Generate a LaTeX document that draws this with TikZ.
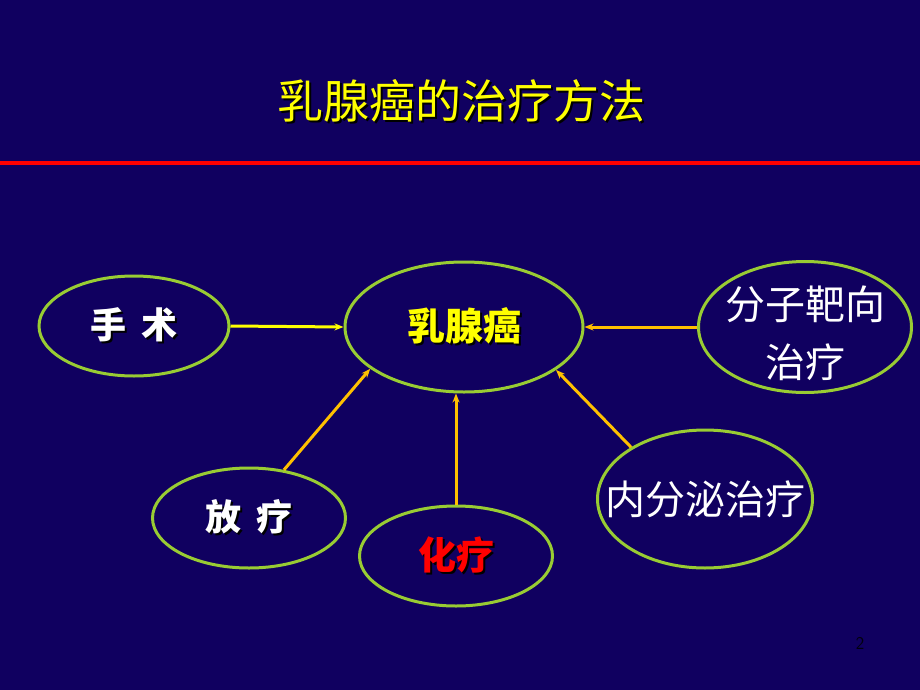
\documentclass[tikz,border=0pt]{standalone}
\usepackage{fontspec}
\newfontfamily\cjk{Noto Sans CJK SC}
\usetikzlibrary{shapes.geometric,arrows.meta}
\definecolor{bgnavy}{RGB}{16,0,96}
\definecolor{ringgreen}{RGB}{153,204,51}
\definecolor{arrowyel}{RGB}{255,255,0}
\definecolor{arroworange}{RGB}{255,192,0}
\definecolor{titleyel}{RGB}{255,255,0}
\definecolor{redtxt}{RGB}{255,0,0}
\definecolor{shadowc}{RGB}{0,0,0}
\newcommand{\shtext}[1]{\makebox[0pt][l]{\hspace{2pt}\raisebox{-2pt}{\color{shadowc}#1}}#1}
\newcommand{\nowidth}[1]{\makebox[0pt][c]{#1}}
\tikzset{
  oval/.style={ellipse, draw=ringgreen, line width=3pt, inner sep=0pt, align=center},
  link/.style={line width=3pt, -{Stealth[length=9pt,width=7pt]}},
  bigtxt/.style={font=\cjk\bfseries\fontsize{36}{40}\selectfont},
  hugetxt/.style={font=\cjk\bfseries\fontsize{38}{42}\selectfont},
  lighttxt/.style={font=\cjk\fontsize{40}{60}\selectfont, text=white}
}
\begin{document}
\begin{tikzpicture}[x=1pt,y=-1pt]
\useasboundingbox (0,0) rectangle (920,690);
\fill[bgnavy] (0,0) rectangle (920,690);
\node[font=\cjk\fontsize{46}{50}\selectfont, text=titleyel] (title) at (461,102) {\shtext{乳腺癌的治疗方法}};
\coordinate (rl) at (0,163);
\coordinate (rr) at (920,163);
\draw[redtxt, line width=4pt] (rl) -- (rr);
\node[oval, minimum width=190pt, minimum height=100pt, bigtxt, text=white] (ss) at (134,326) {\nowidth{\shtext{手\hspace{0.4em}术}}};
\node[oval, minimum width=238pt, minimum height=130pt, hugetxt, text=titleyel] (c) at (464,327) {\nowidth{\shtext{乳腺癌}}};
\node[oval, minimum width=213pt, minimum height=131pt, lighttxt] (fz) at (805,327) {\nowidth{\smash{\raisebox{-16pt}{\begin{tabular}{@{}c@{}}分子靶向\\[-2pt]治疗\end{tabular}}}}};
\node[oval, minimum width=193pt, minimum height=100pt, bigtxt, text=white] (fl) at (249,518) {\nowidth{\shtext{放\hspace{0.4em}疗}}};
\node[oval, minimum width=193pt, minimum height=100pt, hugetxt, text=redtxt] (hl) at (456,556) {\nowidth{\shtext{化疗}}};
\node[oval, minimum width=215pt, minimum height=138pt, lighttxt] (nf) at (705,499) {\nowidth{内分泌治疗}};
\node[font=\sffamily\fontsize{18}{20}\selectfont, text=black!85!bgnavy] (pg) at (860,643) {2};
\draw[link, arrowyel] (ss.east) -- (c.west);
\draw[link, arroworange] (fl.54) -- (c.204);
\draw[link, arroworange] (hl.north) -- (c.south -| hl.north);
\draw[link, arroworange] (nf.145) -- (c.335);
\draw[link, arroworange] (fz.west) -- (c.east);
\end{tikzpicture}
\end{document}
